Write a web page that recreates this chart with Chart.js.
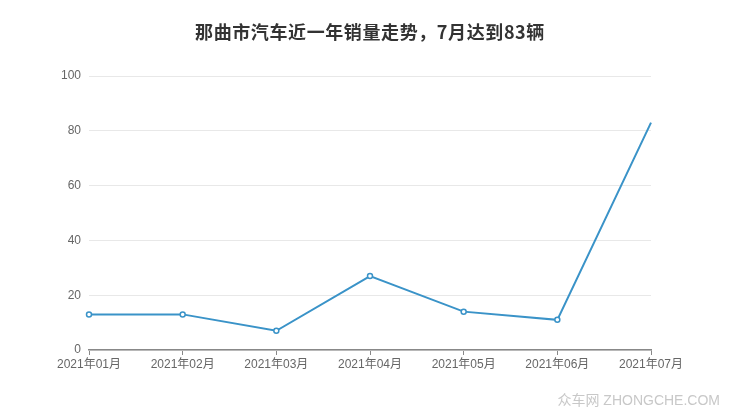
<!DOCTYPE html>
<html>
<head>
<meta charset="utf-8">
<script src="https://cdn.jsdelivr.net/npm/chart.js@4.4.0/dist/chart.umd.min.js"></script>
<style>
  body { margin: 0; background: #fff; }
  #wrap { position: relative; width: 740px; height: 417px; }
  #mark { position: absolute; right: 20px; top: 389px; font: 14px "Liberation Sans", "Noto Sans CJK SC", sans-serif; color: #c8c8c8; }
</style>
</head>
<body>
<div id="wrap">
  <canvas id="mainChart" width="740" height="417"></canvas>
  <div id="mark">众车网 ZHONGCHE.COM</div>
</div>
<script>
const titleText = '那曲市汽车近一年销量走势，7月达到83辆';
const months = ['2021年01月', '2021年02月', '2021年03月', '2021年04月', '2021年05月', '2021年06月', '2021年07月'];
const sales = [13, 13, 7, 27, 14, 11, 83];
const yTicks = [0, 20, 40, 60, 80, 100];

const font = '"Liberation Sans", "Noto Sans CJK SC", sans-serif';

// title drawn by hand so it sits where the original does
const titlePlugin = {
    id: 'topTitle',
    afterDraw(chart) {
        const c = chart.ctx;
        c.save();
        c.font = 'bold 18px "Noto Sans CJK SC", sans-serif';
        c.fillStyle = '#333';
        c.textAlign = 'center';
        c.textBaseline = 'middle';
        c.letterSpacing = '0.6px';
        c.fillText(titleText, 370, 32);
        c.restore();
    }
};

const ctx = document.getElementById('mainChart');
new Chart(ctx, {
    type: 'line',
    data: {
        labels: months,
        datasets: [{
            data: sales,
            borderColor: '#3a93c8',
            borderWidth: 2,
            backgroundColor: '#fff',
            pointBorderColor: '#3a93c8',
            pointBackgroundColor: '#fff',
            pointBorderWidth: 1.5,
            pointRadius: sales.map((v, i) => i === sales.length - 1 ? 0 : 2.5),
            tension: 0,
            fill: false
        }]
    },
    options: {
        responsive: false,
        animation: false,
        layout: { padding: { left: 0, right: 89, top: 76, bottom: 40 } },
        plugins: {
            legend: { display: false },
            title: { display: false },
            tooltip: { enabled: false }
        },
        scales: {
            x: {
                offset: false,
                afterFit(scale) { scale.height = 27; },
                grid: { drawOnChartArea: false, drawTicks: true, tickLength: 5, color: '#888' },
                border: { color: '#888', width: 1.5 },
                ticks: { color: '#666', font: { family: font, size: 12 }, padding: 2, maxRotation: 0, autoSkip: false }
            },
            y: {
                min: 0,
                max: 100,
                afterFit(scale) { scale.width = 89; },
                afterBuildTicks(scale) { scale.ticks = yTicks.map(v => ({ value: v })); },
                grid: { color: '#e8e8e8', drawTicks: false },
                border: { display: false },
                ticks: { color: '#666', font: { family: font, size: 12 }, padding: 8 }
            }
        }
    },
    plugins: [titlePlugin]
});
</script>
</body>
</html>
